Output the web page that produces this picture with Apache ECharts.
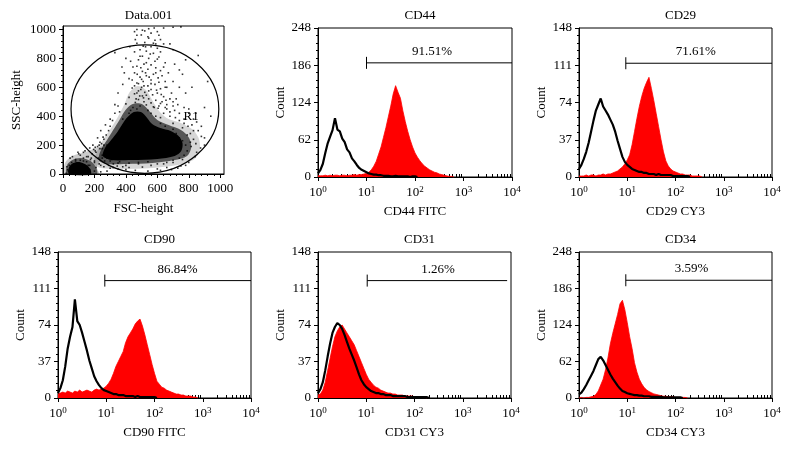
<!DOCTYPE html>
<html><head><meta charset="utf-8">
<script src="https://cdn.jsdelivr.net/npm/echarts@6/dist/echarts.min.js"></script>
<style>html,body{margin:0;padding:0;background:#fff}#c{width:790px;height:454px}</style>
</head><body><div id="c"></div>
<script>
// ================= DATA =================
const panelTitles = ['Data.001', 'CD44', 'CD29', 'CD90', 'CD31', 'CD34'];
const histXNames = ['CD44 FITC', 'CD29 CY3', 'CD90 FITC', 'CD31 CY3', 'CD34 CY3'];
const histYMax = [248, 148, 148, 148, 248];
const histYStep = [62, 37, 37, 37, 62];
const logDecades = [0, 1, 2, 3, 4];           // tick labels 10^0 .. 10^4
const binStep = 0.05;                          // bin width in log10 units

// histogram counts per bin (bin i sits at log10 x = i*binStep)
const cd44Black = [6,12,22,40,56,67,78,98,79,76,64,58,46,41,31,26,20,15,12,10,8,6,5,4,4,3,3,2,2,2,1,1,2,1,1,1,1,1,0,1,1,0];
const cd44Red   = [2,2,2,3,2,3,2,3,3,2,3,3,2,3,3,4,3,4,4,5,6,8,12,18,26,38,50,66,82,100,118,138,152,141,131,110,92,76,62,50,40,33,27,22,18,15,12,10,8,7,5,4,3,2,1,1,0];
const cd29Black = [8,12,18,25,34,45,56,66,72,78,70,66,62,57,52,45,36,28,20,15,12,10,8,7,6,5,5,4,4,3,3,3,2,3,2,2,2,2,2,1,1,1,1,1,1,1,0];
const cd29Red   = [1,1,1,2,1,2,2,1,2,2,3,2,3,3,4,5,6,8,10,13,17,22,32,45,58,70,80,88,94,99,88,76,63,50,37,25,16,11,8,6,5,4,3,3,2,2,2,1,1,1,1,0];
const cd90Black = [5,10,18,32,50,62,72,100,78,74,66,57,48,38,30,22,17,13,10,8,7,6,5,4,4,3,3,3,2,2,2,2,1,2,1,1,1,1,1,1,1,0];
const cd90Red   = [4,5,6,5,7,6,5,7,6,8,6,7,8,7,6,8,9,8,9,10,12,15,19,25,32,37,42,47,56,62,66,70,75,78,80,73,64,54,44,34,25,17,14,11,10,8,7,6,5,4,4,3,3,2,2,2,1,1,0];
const cd31Black = [5,9,16,28,42,55,66,72,76,74,70,64,57,50,44,38,31,24,18,14,11,9,7,6,5,5,4,4,3,3,3,2,2,2,2,2,2,1,1,1,1,1,1,1,1,1,0];
const cd31Red   = [3,4,8,16,28,40,52,62,68,72,74,70,66,62,58,54,48,42,36,30,24,19,16,13,11,10,8,7,6,5,5,4,4,3,3,3,2,2,2,2,1,1,1,1,1,0];
const cd34Black = [6,9,15,22,30,38,46,56,66,70,64,56,48,40,33,27,21,16,12,10,8,7,6,5,5,4,4,3,3,3,2,2,2,2,2,1,1,1,1,1,1,1,1,0];
const cd34Red   = [0,1,0,1,1,2,3,6,12,22,32,48,68,92,110,126,142,160,166,150,128,104,84,60,44,32,24,18,14,11,9,7,6,5,4,3,3,2,2,2,1,1,1,1,1,0];

// gate markers (log10 units / counts)
const gateStart  = [1.0, 0.97, 0.97, 1.02, 0.97];
const gateEnd    = [4.0, 4.0, 4.0, 3.92, 4.0];
const gateLevel  = [190, 113, 119, 119, 200];
const gateLabelX = [2.35, 2.42, 2.48, 2.49, 2.33];
const gateText   = ['91.51%', '71.61%', '86.84%', '1.26%', '3.59%'];

// scatter (FSC-height / SSC-height) tick labels
const scatterTicks = [0, 200, 400, 600, 800, 1000];
// gate R1 ellipse: centre x, centre y, radius x, radius y
const gateR1 = [521, 449, 470, 444];
const gateR1Label = ['R1', 815, 394];

// density contours of the event cloud (data units)
const blobLevel1 = [[196,69],[215,152],[254,235],[306,318],[352,401],[391,484],[424,567],[476,609],[528,581],[567,512],[606,443],[659,388],[750,353],[828,304],[867,235],[867,152],[828,97],[730,62],[567,42],[372,35],[241,42]];
const blobLevel2 = [[228,97],[241,166],[280,235],[319,304],[359,374],[398,443],[443,484],[502,484],[554,429],[600,374],[672,339],[750,304],[802,249],[815,180],[789,125],[711,97],[567,76],[404,69],[274,69]];
const blobCore   = [[254,125],[267,180],[306,235],[346,291],[378,346],[411,394],[450,429],[496,429],[535,388],[567,346],[619,318],[685,298],[735,263],[760,215],[752,159],[711,125],[600,104],[437,97],[306,97]];
const lowLevel1  = [[13,0],[13,76],[59,125],[143,152],[228,187],[280,194],[293,152],[241,97],[215,48],[228,0]];
const lowLevel2  = [[26,0],[26,62],[59,97],[111,111],[176,90],[209,48],[215,0]];
const lowCore    = [[39,0],[39,48],[65,76],[104,83],[150,62],[176,28],[176,0]];

// individual sparse events
const sparseEvents = [[455,985],[470,1000],[520,990],[560,975],[600,985],[640,1010],[700,1015],[750,1018],[610,960],[498,962],[545,940],[585,925],[470,905],[520,910],[560,880],[600,870],[490,860],[530,850],[455,845],[575,835],[620,845],[505,815],[545,800],[480,790],[600,795],[430,780],[650,770],[515,760],[560,755],[470,745],[590,735],[540,725],[505,710],[620,715],[455,700],[575,690],[530,680],[490,670],[605,665],[420,660],[560,650],[510,640],[650,640],[470,630],[585,620],[540,610],[500,600],[440,595],[620,590],[560,585],[480,575],[520,565],[600,560],[455,555],[570,548],[505,540],[640,535],[420,530],[545,520],[480,515],[590,510],[515,500],[460,495],[560,492],[620,488],[400,485],[530,478],[490,470],[575,465],[445,460],[605,455],[660,450],[700,470],[720,520],[690,560],[740,600],[700,640],[760,690],[670,700],[780,560],[820,600],[860,820],[780,790],[700,860],[380,620],[350,560],[390,700],[330,480],[360,430],[300,380],[270,340],[240,300],[220,250],[330,840],[740,420],[800,420],[770,380],[850,360],[830,300],[880,260],[810,220],[900,200],[720,180],[850,150],[760,100],[700,80],[640,70],[560,60],[480,70],[400,60],[350,75],[300,90],[250,110],[210,150],[190,200],[170,180],[230,200],[260,240],[280,200],[150,120],[180,110],[200,90],[230,70],[260,50],[300,40],[160,60],[130,90],[110,130],[140,160],[95,150],[60,120],[80,90],[40,60],[30,30],[60,10],[120,10],[170,30],[200,20],[240,15],[280,20],[320,45],[900,460],[940,400],[920,640],[420,420],[380,380],[640,420],[680,400],[620,390],[700,350],[760,320],[790,270],[820,340],[460,930],[590,900],[680,900],[525,880],[545,1005],[470,960],[640,900],[710,760],[740,720],[650,600],[680,520],[630,500],[660,480],[710,440],[20,5],[35,20],[50,35],[75,45],[90,70],[110,95],[130,110],[160,120],[185,140],[205,160],[235,175],[260,200],[100,30],[140,40],[170,60],[200,80],[225,110],[250,130],[120,70],[150,85],[80,100],[55,80],[45,110],[100,140],[130,150],[175,100],[210,45],[240,60],[265,90],[285,130],[25,50],
  [465,520],[488,540],[512,527],[470,560],[530,545],[495,585],[515,610],[480,625],[545,575],[455,610],[500,655],[560,625],[525,700],[472,690],[548,670],[495,735],[530,770],[490,815],[555,830],[510,885],[575,905],[610,810],[640,740],[585,780],[445,740],[540,950],[505,995],[580,1010],[620,930],[425,880],[400,800],[375,740],[440,650],[610,635],[590,700],[630,680],[660,600],[595,580],[625,550],[655,510],[700,500],[730,480],[770,460],[800,450],[845,420],[830,380],[860,300],[880,330],[900,250],[875,180],[840,120],[800,80],[780,60],[730,40],[690,30],[620,25],[540,20],[460,25],[400,30],[350,35],[320,70],[290,60],[345,55],[380,50],[420,45],[505,48],[600,35],[660,45],[750,55],[815,190],[830,240],[845,210],[810,280],[795,330],[770,350],[740,370],[715,390],[680,430],[650,460],[610,470],[580,460],[350,470],[330,420],[315,370],[300,330],[290,300],[275,270],[255,255],[235,220],[245,210],[220,190],[205,185],[195,170],[250,175],[270,165],[300,180],[320,220],[340,250],[360,290],[390,340],[410,380],[430,440],[470,450],[540,440],[560,420],[590,400],[620,350],[650,330],[700,310],[720,280],[740,250],[760,230],[780,200],[790,160],[770,130],[740,110],[700,95],[660,80],[600,70],[540,85],[480,80],[420,75],[360,85],[310,100],[280,110]];

// ================= CHART =================
const FONT = "'Liberation Serif','Times New Roman',serif";
const TXT = {color: '#000', fontFamily: FONT, fontSize: 13};
const grids = [
  {left: 63, top: 26, width: 161, height: 148},
  {left: 318, top: 28, width: 194, height: 149},
  {left: 579, top: 28, width: 193, height: 149},
  {left: 58, top: 252, width: 193, height: 146},
  {left: 318, top: 252, width: 193, height: 146},
  {left: 579, top: 252, width: 193, height: 146}
];
const titleTops = [4, 4, 4, 228, 228, 228];
const blackLine = {color: '#000', width: 1};

const option = {
  animation: false,
  backgroundColor: '#fff',
  title: panelTitles.map((t, i) => ({
    text: t, left: grids[i].left + grids[i].width / 2, top: titleTops[i], textAlign: 'center',
    textStyle: {color: '#000', fontFamily: FONT, fontSize: 13, fontWeight: 'normal'}
  })),
  grid: grids.map(g => Object.assign({show: true, borderColor: '#000', borderWidth: 1, backgroundColor: 'transparent'}, g)),
  xAxis: [], yAxis: [], series: []
};

// ---- scatter panel ----
const scatterMinor = [];
for (let v = 40; v < 1024; v += 40) if (v % 200 !== 0) scatterMinor.push(v);
const plain = v => String(v);
option.xAxis.push({gridIndex: 0, type: 'value', min: 0, max: 1024,
  axisLine: {lineStyle: blackLine}, axisTick: {length: 4, lineStyle: blackLine, customValues: scatterTicks},
  axisLabel: Object.assign({customValues: scatterTicks, margin: 8, formatter: plain}, TXT), splitLine: {show: false},
  name: 'FSC-height', nameLocation: 'middle', nameGap: 28, nameTextStyle: TXT});
option.xAxis.push({gridIndex: 0, type: 'value', min: 0, max: 1024, position: 'bottom',
  axisLine: {show: false}, axisLabel: {show: false}, splitLine: {show: false},
  axisTick: {show: true, length: 2, lineStyle: blackLine, customValues: scatterMinor}});
option.yAxis.push({gridIndex: 0, type: 'value', min: 0, max: 1024,
  axisLine: {lineStyle: blackLine}, axisTick: {length: 4, lineStyle: blackLine, customValues: scatterTicks},
  axisLabel: Object.assign({customValues: scatterTicks, margin: 7, formatter: plain}, TXT), splitLine: {show: false},
  name: 'SSC-height', nameLocation: 'middle', nameGap: 40, nameTextStyle: TXT});
option.yAxis.push({gridIndex: 0, type: 'value', min: 0, max: 1024, position: 'left',
  axisLine: {show: false}, axisLabel: {show: false}, splitLine: {show: false},
  axisTick: {show: true, length: 2, lineStyle: blackLine, customValues: scatterMinor}});

const densityPolys = [
  {pts: blobLevel1, fill: 'rgba(0,0,0,0.16)'},
  {pts: lowLevel1, fill: 'rgba(0,0,0,0.2)'},
  {pts: blobLevel2, fill: 'rgba(0,0,0,0.6)'},
  {pts: lowLevel2, fill: 'rgba(0,0,0,0.55)'},
  {pts: blobCore, fill: '#000'},
  {pts: lowCore, fill: '#000'}
];
option.series.push({
  type: 'custom', xAxisIndex: 0, yAxisIndex: 0, silent: true, z: 2,
  data: densityPolys.map((p, i) => [p.pts[0][0], p.pts[0][1], i]),
  renderItem: (params, api) => {
    const p = densityPolys[api.value(2)];
    return {type: 'polygon', shape: {points: p.pts.map(pt => api.coord(pt)), smooth: 0.3}, style: {fill: p.fill}};
  }
});
option.series.push({type: 'scatter', xAxisIndex: 0, yAxisIndex: 0, silent: true, z: 3,
  symbol: 'rect', symbolSize: 1.6, itemStyle: {color: '#000'}, data: sparseEvents});
option.series.push({
  type: 'custom', xAxisIndex: 0, yAxisIndex: 0, silent: true, z: 4,
  data: [gateR1.concat([gateR1Label[1], gateR1Label[2]])],
  renderItem: (params, api) => {
    const c = api.coord([api.value(0), api.value(1)]);
    const s = api.size([api.value(2), api.value(3)]);
    const lp = api.coord([api.value(4), api.value(5)]);
    return {type: 'group', children: [
      {type: 'ellipse', shape: {cx: c[0], cy: c[1], rx: s[0], ry: s[1]}, style: {fill: 'none', stroke: '#000', lineWidth: 1.2}},
      {type: 'text', style: {text: gateR1Label[0], x: lp[0], y: lp[1], align: 'center', verticalAlign: 'middle', fontSize: 13, fontFamily: FONT, fill: '#000'}}
    ]};
  }
});

// ---- histogram panels ----
const minorLog = [];
for (let d = 0; d < 4; d++) for (let m = 2; m <= 9; m++) minorLog.push(d + Math.log10(m));
const histData = [[cd44Red, cd44Black], [cd29Red, cd29Black], [cd90Red, cd90Black], [cd31Red, cd31Black], [cd34Red, cd34Black]];

histData.forEach((hd, k) => {
  const gi = k + 1;
  const xi = option.xAxis.length;
  const yi = option.yAxis.length;
  option.xAxis.push({gridIndex: gi, type: 'value', min: 0, max: 4, interval: 1,
    axisLine: {lineStyle: blackLine}, axisTick: {length: 4, lineStyle: blackLine, customValues: logDecades},
    axisLabel: {customValues: logDecades, margin: 8, formatter: v => '{b|10}{s|' + v + '}',
      rich: {b: {fontSize: 13, fontFamily: FONT, color: '#000'}, s: {fontSize: 9, fontFamily: FONT, color: '#000', padding: [0, 0, 7, 0]}}},
    splitLine: {show: false},
    name: histXNames[k], nameLocation: 'middle', nameGap: 28, nameTextStyle: TXT});
  option.xAxis.push({gridIndex: gi, type: 'value', min: 0, max: 4, position: 'bottom',
    axisLine: {show: false}, axisLabel: {show: false}, splitLine: {show: false},
    axisTick: {show: true, inside: true, length: 3, lineStyle: blackLine, customValues: minorLog}});
  option.yAxis.push({gridIndex: gi, type: 'value', min: 0, max: histYMax[k], interval: histYStep[k],
    axisLine: {lineStyle: blackLine}, axisTick: {length: 4, lineStyle: blackLine},
    minorTick: {show: true, splitNumber: 5, length: 2, lineStyle: blackLine},
    axisLabel: Object.assign({margin: 7}, TXT), splitLine: {show: false}, minorSplitLine: {show: false},
    name: 'Count', nameLocation: 'middle', nameGap: 31, nameTextStyle: TXT});
  const toPts = arr => arr.map((v, i) => [i * binStep, v]);
  option.series.push({type: 'line', xAxisIndex: xi, yAxisIndex: yi, silent: true, z: 2,
    showSymbol: false, symbol: 'none', data: toPts(hd[0]),
    lineStyle: {color: '#ff0000', width: 0.8}, areaStyle: {color: '#ff0000', opacity: 1}});
  option.series.push({type: 'line', xAxisIndex: xi, yAxisIndex: yi, silent: true, z: 3,
    showSymbol: false, symbol: 'none', data: toPts(hd[1]),
    lineStyle: {color: '#000', width: 2.2}});
  option.series.push({type: 'custom', xAxisIndex: xi, yAxisIndex: yi, silent: true, z: 4,
    data: [[gateStart[k], gateLevel[k], gateEnd[k], gateLabelX[k]]],
    renderItem: (params, api) => {
      const p0 = api.coord([api.value(0), api.value(1)]);
      const p1 = api.coord([api.value(2), api.value(1)]);
      const pl = api.coord([api.value(3), api.value(1)]);
      return {type: 'group', children: [
        {type: 'line', shape: {x1: p0[0], y1: p0[1], x2: p1[0], y2: p1[1]}, style: {stroke: '#000', lineWidth: 1}},
        {type: 'line', shape: {x1: p0[0], y1: p0[1] - 6, x2: p0[0], y2: p0[1] + 6}, style: {stroke: '#000', lineWidth: 1}},
        {type: 'text', style: {text: gateText[k], x: pl[0], y: pl[1] - 5, align: 'center', verticalAlign: 'bottom', fontSize: 13, fontFamily: FONT, fill: '#000'}}
      ]};
    }
  });
});

const chart = echarts.init(document.getElementById('c'), null, {renderer: 'canvas'});
chart.setOption(option);
</script>
</body></html>
